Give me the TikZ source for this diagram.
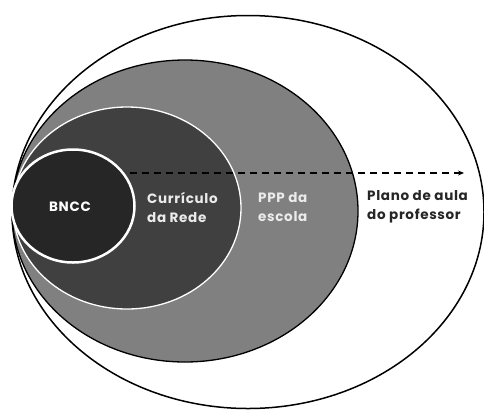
\documentclass[tikz,border=0pt]{standalone}
\usepackage{fontspec}
\setmainfont[LetterSpace=5]{Poppins}
\usetikzlibrary{shapes.geometric,arrows.meta}
\definecolor{ppgray}{HTML}{808080}
\definecolor{redegray}{HTML}{404040}
\definecolor{bnccgray}{HTML}{262626}
\begin{document}
\begin{tikzpicture}[x=1pt,y=-1pt,
    zone/.style={draw, ellipse, inner sep=0pt},
    lbl/.style={font=\bfseries\fontsize{13.5}{19}\selectfont, align=left, anchor=west, inner sep=0pt}]
        \useasboundingbox (0,0) rectangle (484,410);

        \node[zone, fill=white, line width=1.5pt, minimum width=472pt, minimum height=393pt] (plano) at (248,212) {};
        \node[zone, fill=ppgray, line width=1.3pt, minimum width=346pt, minimum height=302pt] (ppp) at (185,211) {};
        \node[zone, fill=redegray, draw=white, line width=1.3pt, minimum width=228pt, minimum height=202pt] (rede) at (127,208) {};
        \node[zone, fill=bnccgray, draw=white, line width=2.5pt, minimum width=123pt, minimum height=113pt] (bncc) at (73,206) {};

        \coordinate (start) at (130,173);
        \coordinate (stop) at (464,173);
        \path[draw, line width=1.2pt, dash pattern=on 7pt off 5pt, -{Stealth[length=6pt,width=5pt]}] (start) -- (stop);

        \node[white, font=\bfseries\fontsize{13.5}{19}\selectfont] (tbncc) at (70,207) {BNCC};
        \node[lbl, white!92!black] (trede) at (147,207) {Currículo\\da Rede};
        \node[lbl, white!92!black] (tppp) at (258,207) {PPP da\\escola};
        \node[lbl, black!85] (tplano) at (367,207) {Plano de aula\\do professor};
    \end{tikzpicture}
\end{document}
